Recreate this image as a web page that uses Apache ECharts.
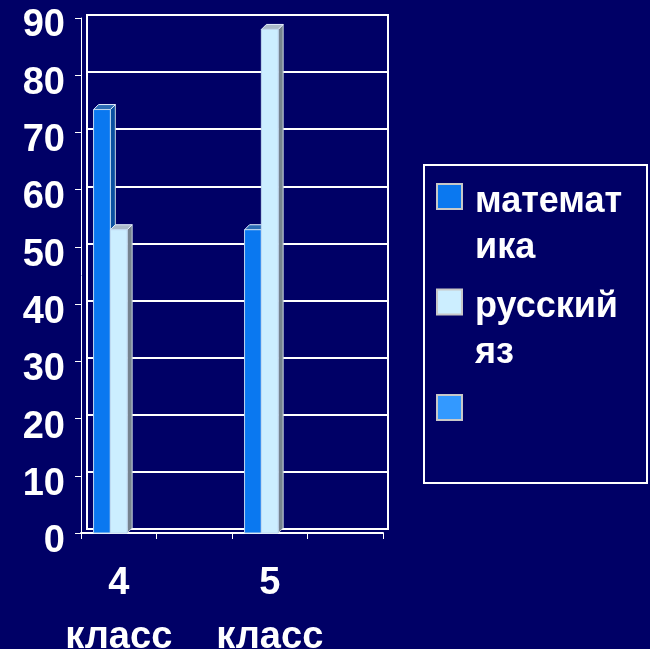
<!DOCTYPE html>
<html><head><meta charset="utf-8">
<script src="https://cdn.jsdelivr.net/npm/echarts@6/dist/echarts.min.js"></script>
<style>html,body{margin:0;padding:0;background:#000066;} #c{width:650px;height:649px;}</style>
</head><body><div id="c"></div>
<script>
// ---- data ----
const categories = ["4 класс", "", "5 класс", ""];
const seriesNames = ["математика", "русский яз", "ряд 3"];
const legendLabels = ["математ\nика", "русский\nяз", ""];
const mathValues = [74, null, 53, null];
const russianValues = [53, null, 88, null];
const thirdValues = [null, null, null, null];
const yMin = 0, yMax = 90, yStep = 10;

// ---- styles ----
const palette = [
  { front: '#0A78F0', top: '#2B6CB4', side: '#0A50A0' },
  { front: '#CCEEFF', top: '#A9B9C8', side: '#76838F' },
  { front: '#3399FF', top: '#4A88D0', side: '#2A70C0' }
];
const FONT = 'Liberation Sans, Arial, sans-serif';

function make3D(sIdx) {
  const col = palette[sIdx];
  return function (params, api) {
    const i = api.value(0);
    const v = api.value(1);
    if (v == null || isNaN(v)) return;
    const band = api.size([1, 0])[0];
    const w = band * 0.2225;
    const c = api.coord([i, v]);
    const b = api.coord([i, 0]);
    const x0 = c[0] - 1.5 * w + sIdx * w;
    const yT = c[1], yB = b[1];
    const d = 5;
    return {
      type: 'group',
      children: [
        { type: 'polygon', shape: { points: [[x0 + w, yT], [x0 + w + d, yT - d], [x0 + w + d, yB - d], [x0 + w, yB]] },
          style: { fill: col.side, stroke: '#C8D4E0', lineWidth: 1 } },
        { type: 'polygon', shape: { points: [[x0, yT], [x0 + w, yT], [x0 + w + d, yT - d], [x0 + d, yT - d]] },
          style: { fill: col.top, stroke: '#E6F0FF', lineWidth: 1 } },
        { type: 'rect', shape: { x: x0, y: yT, width: w, height: yB - yT },
          style: { fill: col.front, stroke: '#BFD8F0', lineWidth: 1 } }
      ]
    };
  };
}

function toData(arr) {
  const out = [];
  arr.forEach((v, i) => { if (v != null) out.push([i, v]); });
  return out;
}

const valuesList = [mathValues, russianValues, thirdValues];

function legendText(name) {
  const lbl = legendLabels[seriesNames.indexOf(name)] || ' \n ';
  return '{s| }\n' + lbl.split('\n').map(l => '{t|' + (l || ' ') + '}').join('\n');
}

const chart = echarts.init(document.getElementById('c'), null, { renderer: 'canvas' });
chart.setOption({
  backgroundColor: '#000066',
  animation: false,
  grid: [
    { left: 81, right: 267, top: 18, bottom: 116, containLabel: false, outerBoundsMode: 'none' },
    { left: 87, right: 262, top: 15, bottom: 120, show: true, borderColor: '#FFFFFF', borderWidth: 2,
      backgroundColor: 'transparent', z: 0, outerBoundsMode: 'none' },
    { left: 81, right: 267, top: 26, bottom: 107, containLabel: false, outerBoundsMode: 'none' }
  ],
  xAxis: [
    { type: 'category', gridIndex: 0, data: categories, boundaryGap: true,
      axisLine: { show: true, lineStyle: { color: '#FFFFFF', width: 2 } },
      axisTick: { show: true, length: 6, interval: 0, lineStyle: { color: '#FFFFFF', width: 1 } },
      axisLabel: { interval: 0, color: '#FFFFFF', fontSize: 38, fontWeight: 'bold', fontFamily: FONT, lineHeight: 54, margin: 24,
        formatter: s => s.replace(' ', '\n') } },
    { type: 'category', gridIndex: 1, data: categories, show: false },
    { type: 'category', gridIndex: 2, data: categories, show: false }
  ],
  yAxis: [
    { type: 'value', gridIndex: 0, min: yMin, max: yMax, interval: yStep,
      axisLine: { show: true, lineStyle: { color: '#FFFFFF', width: 1 } },
      axisTick: { show: true, length: 6, lineStyle: { color: '#FFFFFF', width: 1 } },
      splitLine: { show: false }, axisLabel: { show: false } },
    { type: 'value', gridIndex: 1, min: yMin, max: yMax, interval: yStep,
      axisLine: { show: false }, axisTick: { show: false }, axisLabel: { show: false },
      splitLine: { show: true, lineStyle: { color: '#FFFFFF', width: 2 } } },
    { type: 'value', gridIndex: 2, min: yMin, max: yMax, interval: yStep,
      axisLine: { show: false }, axisTick: { show: false }, splitLine: { show: false },
      axisLabel: { color: '#FFFFFF', fontSize: 38, fontWeight: 'bold', fontFamily: FONT, margin: 16 } }
  ],
  legend: {
    orient: 'vertical', left: 436, top: 122, padding: 0, itemGap: -43.5,
    itemWidth: 25, itemHeight: 25, icon: 'rect',
    itemStyle: { borderColor: '#C8C8C8', borderWidth: 2 },
    data: seriesNames,
    formatter: legendText,
    textStyle: { color: '#FFFFFF', fontSize: 36, fontWeight: 'bold', fontFamily: FONT, lineHeight: 46, padding: [0, 0, 0, 8],
      rich: {
        s: { fontSize: 10, lineHeight: 57 },
        t: { color: '#FFFFFF', fontSize: 36, fontWeight: 'bold', fontFamily: FONT, lineHeight: 46 }
      } }
  },
  graphic: [
    { type: 'rect', left: 423, top: 164, shape: { width: 223, height: 318 },
      style: { fill: 'transparent', stroke: '#FFFFFF', lineWidth: 2 }, silent: true }
  ],
  series: valuesList.map((vals, s) => ({
    type: 'custom', name: seriesNames[s], xAxisIndex: 0, yAxisIndex: 0,
    renderItem: make3D(s), clip: false, z: 5,
    itemStyle: { color: palette[s].front },
    encode: { x: 0, y: 1 },
    data: toData(vals)
  }))
});
</script></body></html>
